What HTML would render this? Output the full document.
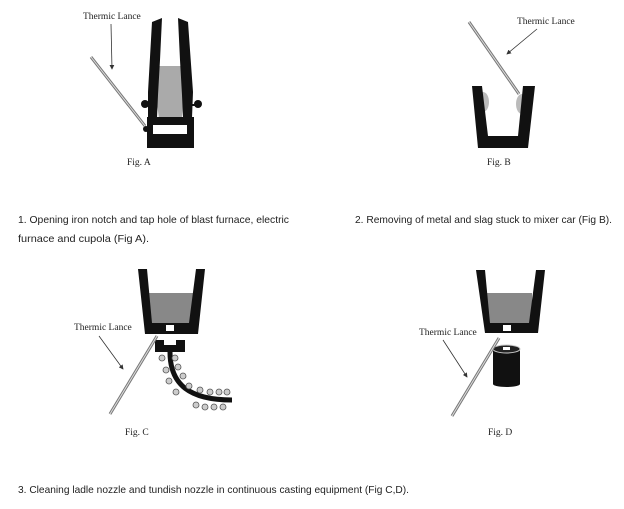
<!DOCTYPE html>
<html><head><style>
body{margin:0;background:#fff;}
.t{font-family:"Liberation Sans",sans-serif;font-size:10.5px;fill:#222;}
.s{font-family:"Liberation Serif",serif;font-size:9.5px;fill:#222;}
</style></head><body>
<svg width="624" height="504" viewBox="0 0 624 504" xmlns="http://www.w3.org/2000/svg">
<defs><marker id="ar" markerWidth="6" markerHeight="6" refX="5" refY="3" orient="auto"><path d="M0,0 L6,3 L0,6z" fill="#333"/></marker></defs>
<!-- Fig A -->
<text class="s" x="83" y="19">Thermic Lance</text>
<line x1="111" y1="24" x2="112" y2="69" stroke="#333" stroke-width="0.8" marker-end="url(#ar)"/>
<polygon points="158,66 182,66 184,95 181,127 160,127 156,95" fill="#aaa"/>
<polygon points="152,22 162,18 160,60 158,95 157,118 148,118 148,92" fill="#111"/>
<polygon points="178,18 188,22 193,92 192,118 183,118 182,95 180,60" fill="#111"/>
<circle cx="145" cy="104" r="4" fill="#111"/><circle cx="198" cy="104" r="4" fill="#111"/>
<rect x="145" y="104" width="6" height="2" fill="#111"/><rect x="191" y="104" width="6" height="2" fill="#111"/>
<rect x="147" y="117" width="47" height="31" fill="#111"/>
<rect x="153" y="125" width="34" height="9" fill="#fff"/>
<circle cx="146" cy="129" r="3" fill="#111"/>
<line x1="91" y1="57" x2="145" y2="126" stroke="#777" stroke-width="3"/>
<line x1="91" y1="57" x2="145" y2="126" stroke="#ddd" stroke-width="1"/>
<text class="s" x="127" y="165">Fig. A</text>
<!-- Fig B -->
<text class="s" x="517" y="24">Thermic Lance</text>
<line x1="537" y1="29" x2="507" y2="54" stroke="#333" stroke-width="0.8" marker-end="url(#ar)"/>
<ellipse cx="483" cy="102" rx="6" ry="10" fill="#bbb"/>
<ellipse cx="522" cy="104" rx="6" ry="10" fill="#bbb"/>
<polygon points="472,86 482,86 488,136 518,136 523,86 535,86 528,148 478,148" fill="#111"/>
<line x1="469" y1="22" x2="519" y2="94" stroke="#777" stroke-width="3"/>
<line x1="469" y1="22" x2="519" y2="94" stroke="#ddd" stroke-width="1"/>
<text class="s" x="487" y="165">Fig. B</text>
<!-- texts -->
<text class="t" x="18" y="223" textLength="271" lengthAdjust="spacingAndGlyphs">1. Opening iron notch and tap hole of blast furnace, electric</text>
<text class="t" x="18" y="242" textLength="131" lengthAdjust="spacingAndGlyphs">furnace and cupola (Fig A).</text>
<text class="t" x="355" y="223" textLength="257" lengthAdjust="spacingAndGlyphs">2. Removing of metal and slag stuck to mixer car (Fig B).</text>
<text class="t" x="18" y="493" textLength="391" lengthAdjust="spacingAndGlyphs">3. Cleaning ladle nozzle and tundish nozzle in continuous casting equipment (Fig C,D).</text>
<!-- Fig C -->
<rect x="148" y="293" width="45" height="30" fill="#888"/>
<polygon points="138,269 147,269 152,323 189,323 196,269 205,269 198,334 145,334" fill="#111"/>
<rect x="166" y="325" width="8" height="6" fill="#fff"/>
<rect x="155" y="340" width="30" height="12" fill="#111"/>
<rect x="164" y="340" width="12" height="5" fill="#fff"/>
<path d="M170,352 C170,385 190,400 232,400" stroke="#111" stroke-width="5" fill="none"/>
<g fill="#ccc" stroke="#555" stroke-width="0.8">
<circle cx="162" cy="358" r="3"/><circle cx="175" cy="358" r="3"/><circle cx="166" cy="370" r="3"/><circle cx="178" cy="367" r="3"/>
<circle cx="169" cy="381" r="3"/><circle cx="183" cy="376" r="3"/><circle cx="176" cy="392" r="3"/><circle cx="189" cy="386" r="3"/>
<circle cx="200" cy="390" r="3"/><circle cx="210" cy="392" r="3"/><circle cx="219" cy="392" r="3"/><circle cx="227" cy="392" r="3"/>
<circle cx="196" cy="405" r="3"/><circle cx="205" cy="407" r="3"/><circle cx="214" cy="407" r="3"/><circle cx="223" cy="407" r="3"/>
</g>
<line x1="157" y1="336" x2="110" y2="414" stroke="#777" stroke-width="3"/>
<line x1="157" y1="336" x2="110" y2="414" stroke="#ddd" stroke-width="1"/>
<text class="s" x="74" y="330">Thermic Lance</text>
<line x1="99" y1="336" x2="123" y2="369" stroke="#333" stroke-width="0.8" marker-end="url(#ar)"/>
<text class="s" x="125" y="435">Fig. C</text>
<!-- Fig D -->
<rect x="487" y="293" width="45" height="30" fill="#888"/>
<polygon points="476,270 485,270 490,323 529,323 536,270 545,270 538,333 485,333" fill="#111"/>
<rect x="503" y="325" width="8" height="6" fill="#fff"/>
<rect x="493" y="349" width="27" height="35" fill="#111"/>
<ellipse cx="506.5" cy="384" rx="13.5" ry="3" fill="#111"/>
<ellipse cx="506.5" cy="349" rx="13.5" ry="4" fill="#222" stroke="#ccc" stroke-width="1"/>
<rect x="503" y="347" width="7" height="3" fill="#fff"/>
<line x1="499" y1="338" x2="452" y2="416" stroke="#777" stroke-width="3"/>
<line x1="499" y1="338" x2="452" y2="416" stroke="#ddd" stroke-width="1"/>
<text class="s" x="419" y="335">Thermic Lance</text>
<line x1="443" y1="340" x2="467" y2="377" stroke="#333" stroke-width="0.8" marker-end="url(#ar)"/>
<text class="s" x="488" y="435">Fig. D</text>
</svg>
</body></html>
